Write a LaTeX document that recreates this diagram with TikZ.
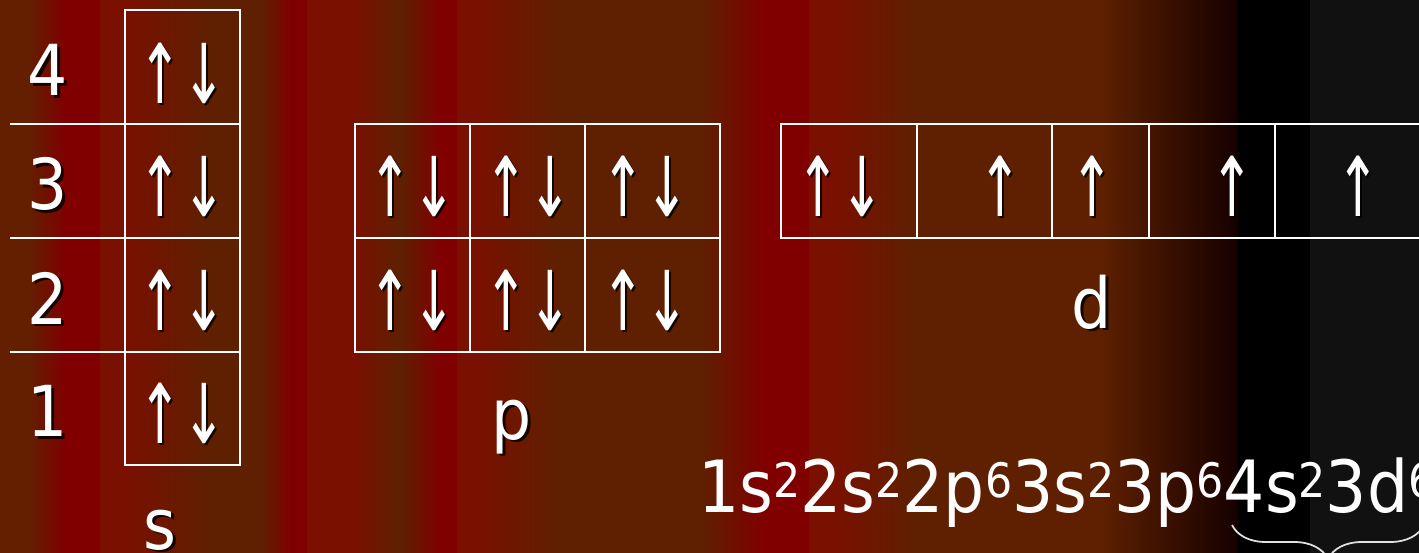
\documentclass[tikz,border=0pt]{standalone}
\usepackage{fontspec}
\setmainfont{DejaVu Sans Condensed}
\usetikzlibrary{decorations.pathreplacing}
\definecolor{bgbrown}{RGB}{94,32,0}
\definecolor{bgred}{RGB}{128,0,0}
\definecolor{bgrust}{RGB}{122,16,0}
\definecolor{bgedge}{RGB}{100,30,0}
\definecolor{bgnight}{RGB}{21,0,0}
\definecolor{bggray}{RGB}{17,17,17}
\definecolor{bracegray}{RGB}{225,225,225}
% superscript of the configuration
\newcommand{\upidx}[1]{\raisebox{8pt}{\fontsize{27}{27}\selectfont #1}}
% white label with a dark drop shadow
\newcommand{\shlabel}[4][]{%
  \node[lbl, #1, text=black, opacity=0.8] at ([shift={(2.5,2.5)}]#3) {#4};
  \node[lbl, #1] (#2) at (#3) {#4};}

\begin{document}
\begin{tikzpicture}[x=0.02cm, y=-0.02cm,
    grid/.style={draw=white, line width=1.2pt},
    lbl/.style={font=\fontsize{40}{42}\selectfont, text=white, inner sep=0pt},
    spin/.style={font=\fontsize{47}{49}\selectfont, xscale=0.7}
  ]
  \useasboundingbox (0,0) rectangle (1419,552);
  \clip (0,0) rectangle (1419,552);
  % vertical stripes of the slide
  \foreach \xa/\ca/\xb/\cb in {0/bgedge/30/bgedge, 30/bgedge/65/bgred,
      65/bgred/100/bgred, 100/bgrust/125/bgrust, 125/bgrust/210/bgbrown,
      210/bgbrown/262/bgbrown, 262/bgbrown/290/bgred, 290/bgred/307/bgred,
      307/bgrust/353/bgrust, 353/bgrust/400/bgbrown, 400/bgbrown/440/bgred,
      440/bgred/457/bgred, 457/bgrust/475/bgrust, 475/bgrust/560/bgbrown,
      560/bgbrown/700/bgbrown, 700/bgbrown/764/bgred, 764/bgred/809/bgred,
      809/bgrust/832/bgrust, 832/bgrust/915/bgbrown, 915/bgbrown/1100/bgbrown,
      1100/bgbrown/1238/bgnight, 1238/black/1310/black, 1310/bggray/1419/bggray}
    \shade[left color=\ca, right color=\cb] (\xa,0) rectangle (\xb+1,552);

  % s column
  \draw[grid] (125,10) rectangle (240,465);
  \foreach \y in {124,238,352}
    \draw[grid] (10,\y) -- (240,\y);
  \foreach \n/\y/\ya in {4/70/73,3/184/186,2/298/300,1/411/413} {
    \shlabel{num\n}{48,\y}{\n}
    \shlabel[spin]{s\n}{182,\ya}{↑↓}
  }
  \shlabel[anchor=base]{slbl}{160,549}{s}

  % p block
  \draw[grid] (355,124) rectangle (720,352);
  \draw[grid] (355,238) -- (720,238);
  \foreach \x in {470,585}
    \draw[grid] (\x,124) -- (\x,352);
  \foreach \x [count=\i] in {412,528,645} {
    \shlabel[spin]{pa\i}{\x,186}{↑↓}
    \shlabel[spin]{pb\i}{\x,300}{↑↓}
  }
  \shlabel[anchor=base]{plbl}{512,439}{p}

  % d row
  \draw[grid] (1425,124) -| (781,238) -- (1425,238);
  \foreach \x in {917,1052,1149,1275}
    \draw[grid] (\x,124) -- (\x,238);
  \shlabel[spin]{d1}{840,186}{↑↓}
  \foreach \x [count=\i from 2] in {1000,1092,1232,1358} {
    \shlabel[spin]{d\i}{\x,186}{↑}
  }
  \shlabel[anchor=base]{dlbl}{1092,328}{d}

  % configuration
  \node[lbl, anchor=base west, font=\fontsize{41}{43}\selectfont] (conf) at (698,512)
    {1s\upidx{2}2s\upidx{2}2p\upidx{6}3s\upidx{2}3p\upidx{6}4s\upidx{2}3d\upidx{6}};
  \draw[bracegray, line width=1pt, decorate,
        decoration={brace, mirror, amplitude=0.68cm}]
    (1232,525) -- (1424,525);
\end{tikzpicture}
\end{document}
